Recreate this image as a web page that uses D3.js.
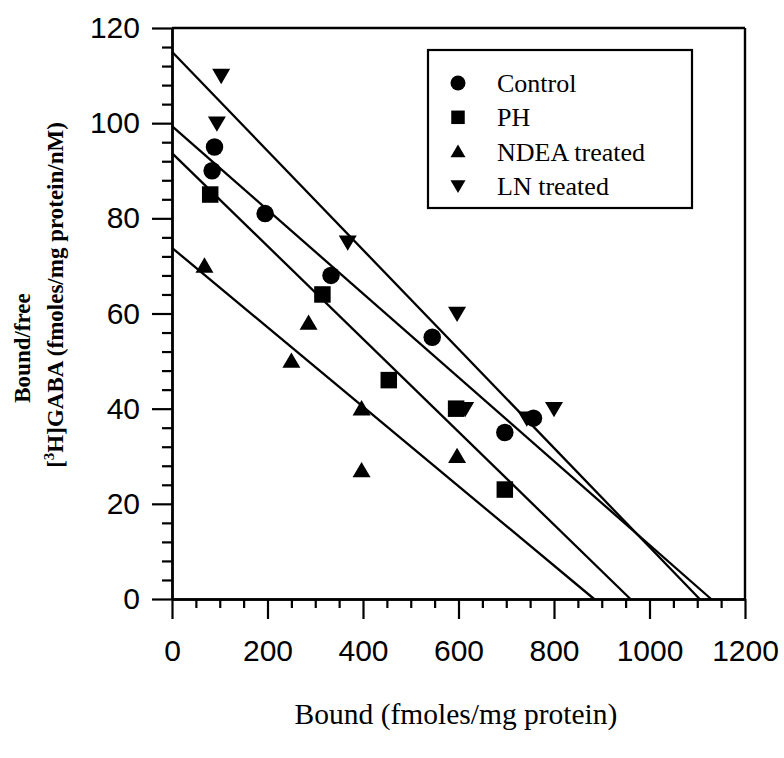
<!DOCTYPE html>
<html>
<head>
<meta charset="utf-8">
<script src="https://cdn.jsdelivr.net/npm/d3@7"></script>
<style>
  html, body { margin: 0; padding: 0; background: #fff; }
  svg { display: block; }
</style>
</head>
<body>
<svg id="chart" width="784" height="758"></svg>
<script>
// ---- data ----
const seriesNames = ["Control", "PH", "NDEA treated", "LN treated"];
const controlX = [84, 89, 195, 333, 545, 697, 757];
const controlY = [90, 95, 81, 68, 55, 35, 38];
const phX = [80, 315, 454, 595, 697];
const phY = [85, 64, 46, 40, 23];
const ndeaX = [68, 250, 286, 397, 397, 597];
const ndeaY = [70, 50, 58, 40, 27, 30];
const lnX = [103, 94, 368, 597, 614, 743, 800];
const lnY = [110, 100, 75, 60, 40, 38, 40];
// regression lines: y-intercept and x-intercept per series
const lineYIntercepts = [99.4, 93.7, 73.8, 115.0];
const lineXIntercepts = [1129, 960, 884, 1105];
const xTicks = [0, 200, 400, 600, 800, 1000, 1200];
const yTicks = [0, 20, 40, 60, 80, 100, 120];

(function () {
const W = 784, H = 758;
const mLeft = 172, mRight = 745, mTop = 28, mBottom = 599;
const svg = d3.select("#chart");
svg.append("rect").attr("width", W).attr("height", H).attr("fill", "#fff");

const x = d3.scaleLinear().domain([0, 1200]).range([mLeft, mRight]);
const y = d3.scaleLinear().domain([0, 120]).range([mBottom, mTop]);

const ink = "#000";
const tickFont = "Liberation Sans, Arial, sans-serif";
const serif = "Liberation Serif, Times New Roman, serif";

const xMinor = d3.range(0, 1201, 50).filter(v => v % 200 !== 0);
const yMinor = d3.range(0, 121, 4).filter(v => v % 20 !== 0);

const gx = svg.append("g").attr("transform", `translate(0,${mBottom})`);
gx.call(d3.axisBottom(x).tickValues(xMinor).tickSize(9).tickSizeOuter(0).tickFormat(""));
const gx2 = svg.append("g").attr("transform", `translate(0,${mBottom})`);
gx2.call(d3.axisBottom(x).tickValues(xTicks).tickSize(20).tickSizeOuter(0).tickPadding(21).tickFormat(d3.format("d")));

const gy = svg.append("g").attr("transform", `translate(${mLeft},0)`);
gy.call(d3.axisLeft(y).tickValues(yMinor).tickSize(10).tickSizeOuter(0).tickFormat(""));
const gy2 = svg.append("g").attr("transform", `translate(${mLeft},0)`);
gy2.call(d3.axisLeft(y).tickValues(yTicks).tickSize(20).tickSizeOuter(0).tickPadding(12).tickFormat(d3.format("d")));

svg.selectAll(".domain").attr("stroke", ink).attr("stroke-width", 2.4);
svg.selectAll(".tick line").attr("stroke", ink).attr("stroke-width", 2.2);
gx2.selectAll(".tick text").attr("font-family", tickFont).attr("font-size", 30).attr("fill", ink).attr("dy", "0.71em");
gy2.selectAll(".tick text").attr("font-family", tickFont).attr("font-size", 30).attr("fill", ink);

svg.append("line").attr("x1", mLeft).attr("x2", mRight).attr("y1", mTop).attr("y2", mTop)
  .attr("stroke", ink).attr("stroke-width", 2.4);
svg.append("line").attr("x1", mRight).attr("x2", mRight).attr("y1", mTop).attr("y2", mBottom)
  .attr("stroke", ink).attr("stroke-width", 2.4);

const lineGen = d3.line().x(d => x(d[0])).y(d => y(d[1]));
lineYIntercepts.forEach((b, i) => {
  const pts = [[0, b], [lineXIntercepts[i], 0]];
  svg.append("path").attr("d", lineGen(pts)).attr("fill", "none")
    .attr("stroke", ink).attr("stroke-width", 2.3);
});

function circlePath(r) {
  const p = d3.path();
  p.arc(0, 0, r, 0, 2 * Math.PI);
  p.closePath();
  return p.toString();
}
function shape(kind, s) {
  const h = s / 2;
  if (kind === 0) return circlePath(h);
  if (kind === 1) return `M${-h},${-h}H${h}V${h}H${-h}Z`;
  if (kind === 2) return `M0,${-h * 0.95}L${h},${h * 0.75}L${-h},${h * 0.75}Z`;
  return `M0,${h * 0.95}L${h},${-h * 0.75}L${-h},${-h * 0.75}Z`;
}

const allX = [controlX, phX, ndeaX, lnX];
const allY = [controlY, phY, ndeaY, lnY];
const sizes = [17.5, 16.5, 18, 18];
allX.forEach((xs, si) => {
  const data = xs.map((v, j) => [v, allY[si][j]]);
  svg.append("g").selectAll("path").data(data).join("path")
    .attr("d", shape(si, sizes[si]))
    .attr("transform", d => `translate(${x(d[0])},${y(d[1])})`)
    .attr("fill", ink);
});

// legend
const lg = svg.append("g");
lg.append("rect").attr("x", 428).attr("y", 50).attr("width", 264).attr("height", 158)
  .attr("fill", "#fff").attr("stroke", ink).attr("stroke-width", 2.2);
const legSizes = [15, 13.5, 15, 15];
seriesNames.forEach((name, i) => {
  const cy = 83 + i * 34.3;
  lg.append("path").attr("d", shape(i, legSizes[i]))
    .attr("transform", `translate(458,${cy})`).attr("fill", ink);
  lg.append("text").attr("x", 497).attr("y", cy).attr("dy", "0.35em")
    .attr("font-family", serif).attr("font-size", 26).attr("fill", ink).text(name);
});

// axis titles
svg.append("text").attr("x", 456).attr("y", 724).attr("text-anchor", "middle")
  .attr("font-family", serif).attr("font-size", 29.5).attr("fill", ink)
  .text("Bound (fmoles/mg protein)");

svg.append("text").attr("transform", "translate(30,348) rotate(-90)")
  .attr("text-anchor", "middle").attr("font-family", serif).attr("font-weight", "bold")
  .attr("font-size", 23).attr("fill", ink).text("Bound/free");
const yt2 = svg.append("text").attr("transform", "translate(63,295) rotate(-90)")
  .attr("text-anchor", "middle").attr("font-family", serif).attr("font-weight", "bold")
  .attr("font-size", 23).attr("fill", ink);
yt2.append("tspan").text("[");
yt2.append("tspan").attr("font-size", 15).attr("dy", -9).text("3");
yt2.append("tspan").attr("dy", 9).text("H]GABA (fmoles/mg protein/nM)");
})();
</script>
</body>
</html>
